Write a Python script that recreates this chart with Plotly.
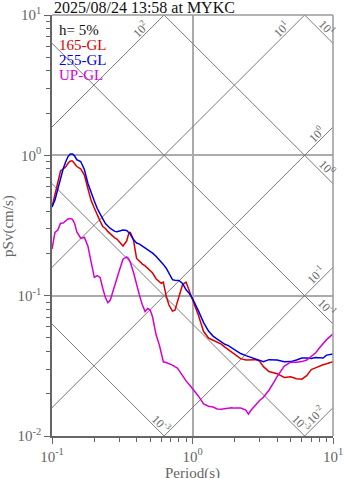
import math
import plotly.graph_objects as go

# Pseudo-velocity response spectra (h = 5%), period in s, pSv in cm/s
period = [0.10, 0.105, 0.11, 0.115, 0.12, 0.125, 0.13, 0.135, 0.14, 0.145,
          0.15, 0.16, 0.17, 0.18, 0.19, 0.20, 0.21, 0.22, 0.23, 0.24,
          0.25, 0.26, 0.27, 0.28, 0.29, 0.30, 0.32, 0.34, 0.35, 0.36,
          0.38, 0.40, 0.42, 0.44, 0.46, 0.48, 0.50, 0.52, 0.55, 0.58,
          0.60, 0.62, 0.65, 0.68, 0.70, 0.72, 0.75, 0.78, 0.80, 0.85,
          0.90, 0.95, 1.0, 1.1, 1.2, 1.3, 1.4, 1.5, 1.6, 1.7,
          1.8, 1.9, 2.0, 2.2, 2.4, 2.5, 2.6, 2.8, 3.0, 3.2,
          3.5, 3.8, 4.0, 4.5, 5.0, 5.5, 6.0, 6.5, 7.0, 7.5,
          8.0, 8.5, 9.0, 9.5, 10.0]

sv_165 = [0.428, 0.521, 0.645, 0.773, 0.799, 0.825, 0.877, 0.911, 0.911, 0.874,
          0.832, 0.801, 0.724, 0.580, 0.476, 0.421, 0.372, 0.340, 0.311, 0.301,
          0.286, 0.275, 0.264, 0.258, 0.253, 0.243, 0.226, 0.245, 0.273, 0.284,
          0.249, 0.184, 0.175, 0.168, 0.163, 0.157, 0.151, 0.145, 0.132, 0.125,
          0.1226, 0.125, 0.0993, 0.0857, 0.0809, 0.0777, 0.0789, 0.0900, 0.0993, 0.120,
          0.125, 0.1096, 0.0938, 0.0727, 0.0555, 0.0499, 0.0483, 0.0467, 0.0452, 0.0430,
          0.0413, 0.0396, 0.0380, 0.0356, 0.0348, 0.0349, 0.0350, 0.0350, 0.0342, 0.0312,
          0.0288, 0.0282, 0.0278, 0.0261, 0.0264, 0.0256, 0.0254, 0.0269, 0.0297, 0.0306,
          0.0315, 0.0322, 0.0327, 0.0331, 0.0338]

sv_255 = [0.428, 0.480, 0.575, 0.689, 0.799, 0.896, 0.980, 1.022, 1.022, 0.989,
          0.933, 0.903, 0.792, 0.632, 0.539, 0.472, 0.418, 0.379, 0.352, 0.326,
          0.311, 0.301, 0.294, 0.287, 0.285, 0.288, 0.294, 0.291, 0.284, 0.275,
          0.251, 0.237, 0.233, 0.226, 0.220, 0.214, 0.207, 0.201, 0.191, 0.181,
          0.174, 0.167, 0.157, 0.145, 0.137, 0.130, 0.129, 0.129, 0.1285, 0.122,
          0.110, 0.1035, 0.0954, 0.0783, 0.0643, 0.0559, 0.0515, 0.0491, 0.0467, 0.0450,
          0.0441, 0.0427, 0.0410, 0.0387, 0.0374, 0.0369, 0.0365, 0.0355, 0.0345, 0.0338,
          0.0350, 0.0349, 0.0348, 0.0338, 0.0339, 0.0348, 0.0360, 0.0360, 0.0357, 0.0362,
          0.0360, 0.0359, 0.0377, 0.0380, 0.0384]

sv_up = [0.215, 0.282, 0.294, 0.328, 0.329, 0.343, 0.352, 0.354, 0.350, 0.326,
         0.286, 0.257, 0.260, 0.226, 0.171, 0.135, 0.139, 0.135, 0.1124, 0.0969,
         0.0890, 0.0930, 0.1052, 0.120, 0.135, 0.1485, 0.182, 0.189, 0.184, 0.174,
         0.147, 0.119, 0.100, 0.0857, 0.0770, 0.0809, 0.0789, 0.0704, 0.0528, 0.0448,
         0.0390, 0.0338, 0.0334, 0.0329, 0.0323, 0.0320, 0.0312, 0.0305, 0.0295, 0.0267,
         0.0247, 0.0232, 0.0218, 0.0193, 0.0169, 0.0163, 0.0161, 0.0156, 0.0155, 0.0157,
         0.0159, 0.0159, 0.0158, 0.0158, 0.0153, 0.0143, 0.0152, 0.0166, 0.0179, 0.0189,
         0.0212, 0.0242, 0.0265, 0.0315, 0.0336, 0.0335, 0.0339, 0.0348, 0.0368, 0.0390,
         0.0423, 0.0456, 0.0486, 0.0511, 0.0532]

series_names = ["165-GL", "255-GL", "UP-GL"]
series_colors = ["#dd0000", "#0000e6", "#d400d4"]

# Tripartite guide levels
disp_levels = [1e-3, 1e-2, 1e-1, 1e0, 1e1]          # displacement, cm
disp_labels = ["10<sup>-3</sup>", "10<sup>-3</sup>", "10<sup>-1</sup>", "10<sup>0</sup>", "10<sup>1</sup>"]
acc_levels = [1e-2, 1e-1, 1e0, 1e1, 1e2]            # acceleration, cm/s^2
acc_labels = ["10<sup>-2</sup>", "10<sup>-1</sup>", "10<sup>0</sup>", "10<sup>1</sup>", "10<sup>2</sup>"]

x_tickvals = [0.1, 1, 10]
x_ticktext = ["10<sup>-1</sup>", "10<sup>0</sup>", "10<sup>1</sup>"]
y_tickvals = [0.01, 0.1, 1, 10]
y_ticktext = ["10<sup>-2</sup>", "10<sup>-1</sup>", "10<sup>0</sup>", "10<sup>1</sup>"]

T_MIN, T_MAX = 0.1, 10.0
SV_MIN, SV_MAX = 0.01, 10.0
TWO_PI = 2 * math.pi

FONT = "Liberation Serif"
GRAY = "#666666"

fig = go.Figure()

# Constant-displacement lines: Sv = 2*pi*D / T
for d in disp_levels:
    fig.add_trace(go.Scatter(x=[T_MIN, T_MAX], y=[TWO_PI * d / T_MIN, TWO_PI * d / T_MAX],
                             mode="lines", line=dict(color="#7a7a7a", width=1),
                             hoverinfo="skip", showlegend=False))
# Constant-acceleration lines: Sv = A * T / (2*pi)
for a in acc_levels:
    fig.add_trace(go.Scatter(x=[T_MIN, T_MAX], y=[a * T_MIN / TWO_PI, a * T_MAX / TWO_PI],
                             mode="lines", line=dict(color="#7a7a7a", width=1),
                             hoverinfo="skip", showlegend=False))

for name, vals, col in zip(series_names, [sv_165, sv_255, sv_up], series_colors):
    fig.add_trace(go.Scatter(x=period, y=vals, mode="lines", name=name,
                             line=dict(color=col, width=1.5), showlegend=False))

annotations = []
PX_PER_DEC = 140.3

# labels for the diagonal guides, placed a little before each line leaves the frame
for a, lab in zip(acc_levels, acc_labels):
    t_exit = min(T_MAX, TWO_PI * SV_MAX / a)
    k = 19 if t_exit < T_MAX else 12
    t = t_exit / 10 ** (k / PX_PER_DEC)
    sv = a * t / TWO_PI
    annotations.append(dict(x=math.log10(t), y=math.log10(sv), xref="x", yref="y",
                            text=lab, showarrow=False, textangle=-45,
                            xshift=-5, yshift=5,
                            font=dict(family=FONT, size=12, color=GRAY)))
for d, lab in zip(disp_levels, disp_labels):
    t_exit = min(T_MAX, TWO_PI * d / SV_MIN)
    k = 8 if t_exit < T_MAX else 11
    t = t_exit / 10 ** (k / PX_PER_DEC)
    sv = TWO_PI * d / t
    annotations.append(dict(x=math.log10(t), y=math.log10(sv), xref="x", yref="y",
                            text=lab, showarrow=False, textangle=45,
                            xshift=5, yshift=5,
                            font=dict(family=FONT, size=12, color=GRAY)))

# chart title and axis titles
annotations.append(dict(x=0.0, y=1.0, xref="paper", yref="paper", xanchor="left",
                        yanchor="bottom", yshift=-3, showarrow=False,
                        text="2025/08/24 13:58 at MYKC",
                        font=dict(family=FONT, size=16, color="#111111")))
annotations.append(dict(x=0.5, y=-0.0835, xref="paper", yref="paper",
                        xanchor="center", yanchor="middle", yshift=-2, showarrow=False,
                        borderpad=0,
                        text="Period(s)", font=dict(family=FONT, size=15, color=GRAY)))
annotations.append(dict(x=-0.155, y=0.5, xref="paper", yref="paper",
                        xanchor="center", yanchor="middle", showarrow=False, textangle=-90,
                        text="pSv(cm/s)", font=dict(family=FONT, size=15, color=GRAY)))

# in-plot legend text
legend_rows = [("h= 5%", "#111111")] + list(zip(series_names, series_colors))
for i, (txt, col) in enumerate(legend_rows):
    annotations.append(dict(x=0.018, y=0.964 - i * 0.0355, xref="paper", yref="paper",
                            xanchor="left", yanchor="middle", showarrow=False,
                            text=txt, font=dict(family=FONT, size=15, color=col)))

axis_common = dict(
    type="log", tickmode="array", automargin=False,
    ticks="outside", ticklen=6, tickwidth=1, tickcolor=GRAY,
    showline=True, linecolor=GRAY, linewidth=1.5,
    showgrid=True, gridcolor="#ababab", gridwidth=1.5,
    zeroline=False,
    tickfont=dict(family=FONT, size=15, color=GRAY),
    minor=dict(tickmode="linear", dtick="D1", ticks="outside", ticklen=4,
               tickcolor=GRAY, showgrid=False),
)

fig.update_layout(
    width=347, height=478,
    margin=dict(l=52, r=14, t=15, b=42),
    plot_bgcolor="white", paper_bgcolor="white",
    xaxis=dict(range=[math.log10(T_MIN), math.log10(T_MAX)],
               tickvals=x_tickvals, ticktext=x_ticktext, **axis_common),
    yaxis=dict(range=[math.log10(SV_MIN), math.log10(SV_MAX)],
               tickvals=y_tickvals, ticktext=y_ticktext, **axis_common),
    annotations=annotations,
    shapes=[
        dict(type="line", xref="paper", yref="paper", x0=0, x1=1, y0=1, y1=1,
             line=dict(color="#9a9a9a", width=1.5)),
        dict(type="line", xref="paper", yref="paper", x0=1, x1=1, y0=0, y1=1,
             line=dict(color="#9a9a9a", width=1.5)),
    ],
)

fig.write_html("out.html")
